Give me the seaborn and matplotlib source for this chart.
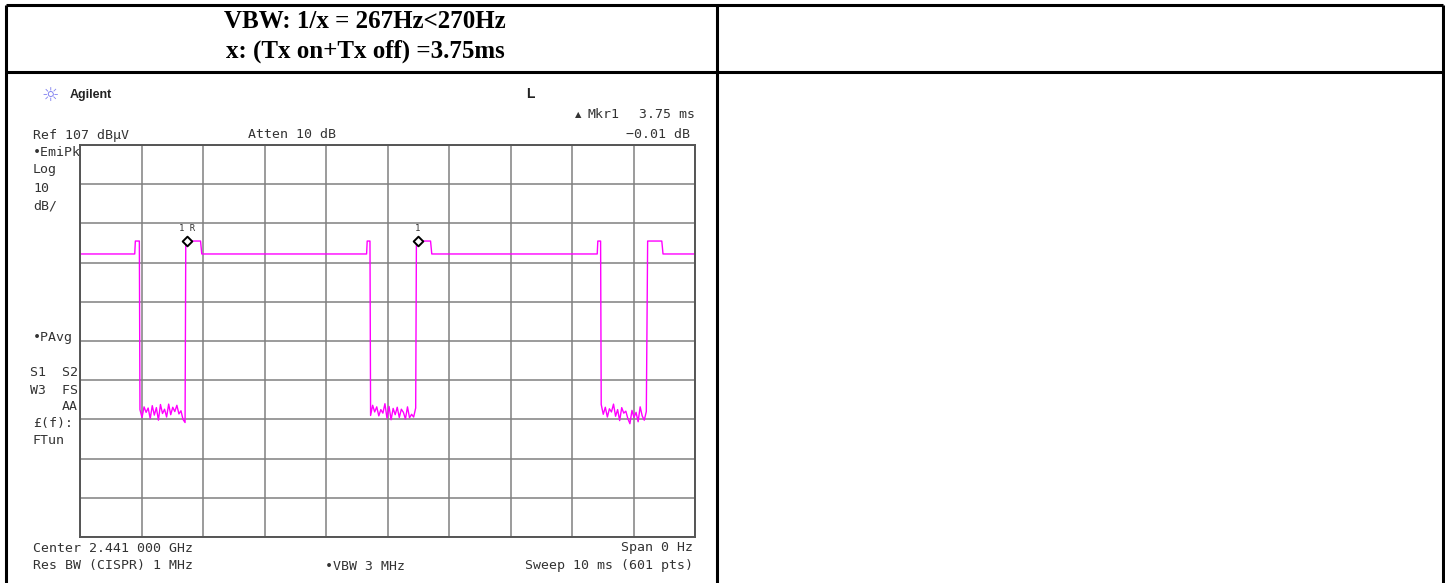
import numpy as np
import pandas as pd
import matplotlib
matplotlib.use("Agg")
import matplotlib.pyplot as plt
import seaborn as sns

# --- header text of the report table ---
header_lines = ["VBW: 1/x = 267Hz<270Hz", "x: (Tx on+Tx off) =3.75ms"]

# --- analyzer trace (time in ms, level in dBuV) ---
ref_level = 107
db_per_div = 10
sweep_ms = 10
high_db = 79.2          # level between bursts
peak_db = 82.5          # short overshoot / marker level
spike_t = [0.90, 4.67, 8.42]      # small spike before each off period
fall_t = [0.97, 4.72, 8.47]       # trace drops to noise floor
rise_t = [1.72, 5.47, 9.23]       # trace comes back up
peak_end_t = [1.96, 5.70, 9.46]   # end of flat top after rise

# noise floor samples (every second sweep point) in each off period
noise_1 = [39.5, 37.5, 40.2, 38.8, 39.9, 37.2, 40.5, 38.1, 40.0, 36.8, 40.8,
           38.5, 39.6, 37.6, 40.9, 38.2, 40.1, 39.0, 40.6, 38.4, 39.2, 37.0, 36.2]
noise_2 = [38.0, 40.6, 38.9, 40.2, 37.9, 39.5, 38.6, 41.0, 37.3, 40.3, 36.9,
           39.8, 38.2, 40.1, 37.5, 39.6, 38.8, 37.1, 40.2, 37.4, 38.3, 37.6, 39.9]
noise_3 = [40.8, 38.3, 40.1, 37.6, 39.7, 38.9, 40.9, 37.8, 39.5, 36.7, 40.0,
           38.6, 39.1, 37.2, 35.9, 39.3, 37.5, 38.8, 36.4, 40.2, 37.9, 36.8, 39.0]
noise_floor = [noise_1, noise_2, noise_3]

# markers
marker_t = [1.74, 5.49]
marker_db = [82.5, 82.5]
marker_lbl = ["1 R", "1"]

# build the trace table
pt_dt = 2 * sweep_ms / 600
t_vals, db_vals = [0.0], [high_db]
for k in range(3):
    t_vals += [spike_t[k] - 0.01, spike_t[k], spike_t[k] + 0.03, fall_t[k] - 0.005]
    db_vals += [high_db, peak_db, peak_db, peak_db]
    for i, v in enumerate(noise_floor[k]):
        t_vals.append(fall_t[k] + 0.005 + i * pt_dt)
        db_vals.append(v)
    t_vals += [rise_t[k], peak_end_t[k], peak_end_t[k] + 0.02]
    db_vals += [peak_db, peak_db, high_db]
t_vals.append(sweep_ms)
db_vals.append(high_db)
trace = pd.DataFrame({"t": t_vals, "dB": db_vals})
marks = pd.DataFrame({"t": marker_t, "dB": marker_db})

sns.set_style("white")
plt.rcParams["font.family"] = ["DejaVu Sans Mono", "DejaVu Sans"]

W, H = 1445, 583
fig = plt.figure(figsize=(W / 100, H / 100), dpi=100)

# background axes in pixel units for the table and screen text
bg = fig.add_axes([0, 0, 1, 1])
bg.set_xlim(0, W)
bg.set_ylim(H, 0)
bg.axis("off")
lw_tab = 2.2
bg.hlines([5, 72], 6, 1443, color="black", lw=lw_tab)
bg.vlines([6, 717, 1443], 5, H, color="black", lw=lw_tab)
for i, line in enumerate(header_lines):
    bg.text(365, 22 + i * 29, line, ha="center", va="center", fontsize=18,
            fontweight="bold", color="black", family="Liberation Serif")

txt = dict(fontsize=9.5, color="#333333", va="center")
bg.text(50, 95, "\u263c", fontsize=14, color="#8080f0", ha="center", va="center",
        family="DejaVu Sans")
bg.text(70, 95, "Agilent", fontsize=9, fontweight="bold", color="#222222",
        va="center", family="Liberation Sans")
bg.text(530, 94, "L", fontsize=10, fontweight="bold", color="#222222",
        ha="center", va="center", family="Liberation Sans")
bg.text(578, 115, "\u25b2", fontsize=6, color="#333333", ha="center", va="center",
        family="DejaVu Sans")
bg.text(587, 115, "Mkr1", ha="left", **txt)
bg.text(695, 115, "3.75 ms", ha="right", **txt)
bg.text(690, 134, "\u22120.01 dB", ha="right", **txt)
bg.text(33, 135, "Ref 107 dB\u03bcV", ha="left", **txt)
bg.text(248, 135, "Atten 10 dB", ha="left", **txt)
side_left = [("\u2022EmiPk", 152), ("Log", 170), ("10", 188), ("dB/", 206),
             ("\u2022PAvg", 338), ("£(f):", 424), ("FTun", 441)]
for s, y in side_left:
    bg.text(33, y, s, ha="left", **txt)
for s, y in [("S1  S2", 373), ("W3  FS", 390), ("AA", 407)]:
    bg.text(78, y, s, ha="right", **txt)
bg.text(33, 548, "Center 2.441 000 GHz", ha="left", **txt)
bg.text(33, 566, "Res BW (CISPR) 1 MHz", ha="left", **txt)
bg.text(325, 566, "\u2022VBW 3 MHz", ha="left", **txt)
bg.text(693, 548, "Span 0 Hz", ha="right", **txt)
bg.text(693, 566, "Sweep 10 ms (601 pts)", ha="right", **txt)

# analyzer screen
x0, x1, y0, y1 = 80, 695, 145, 537
ax = fig.add_axes([x0 / W, 1 - y1 / H, (x1 - x0) / W, (y1 - y0) / H])
ax.set_facecolor("none")
sns.lineplot(data=trace, x="t", y="dB", sort=False, estimator=None,
             color="#ff00ff", lw=1.0, ax=ax)
sns.scatterplot(data=marks, x="t", y="dB", marker="D", s=24, color="white",
                edgecolor="black", linewidth=1.4, zorder=5, ax=ax)
for t, d, lbl in zip(marker_t, marker_db, marker_lbl):
    ax.annotate(lbl, (t, d), xytext=(0, 9), textcoords="offset points",
                ha="center", va="center", fontsize=6.5, color="#333333")
ax.set_xlim(0, sweep_ms)
ax.set_ylim(ref_level - 10 * db_per_div, ref_level)
ax.set_xticks(np.arange(0, sweep_ms + 1, 1))
ax.set_yticks(np.arange(ref_level - 10 * db_per_div, ref_level + 1, db_per_div))
ax.grid(True, color="#808080", lw=1.1)
ax.tick_params(length=0, labelbottom=False, labelleft=False)
ax.set_xlabel("")
ax.set_ylabel("")
for sp in ax.spines.values():
    sp.set_visible(True)
    sp.set_color("#555555")
    sp.set_linewidth(1.4)

fig.savefig("out.png", dpi=100)
